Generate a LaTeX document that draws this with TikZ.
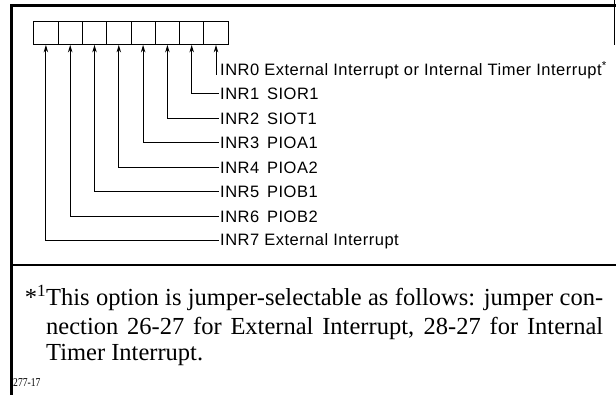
\documentclass[tikz,border=0pt]{standalone}
\usepackage{fontspec}
\setmainfont{Liberation Serif}
\newfontfamily\lblfont[LetterSpace=3]{Liberation Sans}
\usetikzlibrary{arrows.meta}
\begin{document}
\begin{tikzpicture}[x=1pt,y=-1pt,
  frame/.style={line width=2.2pt,line cap=rect},
  cell/.style={draw,line width=0.9pt,minimum width=24.3pt,minimum height=23pt,
               inner sep=0pt,anchor=north west},
  lbl/.style={anchor=west,inner sep=1.5pt,font=\lblfont\fontsize{16.5}{18}\selectfont},
  wire/.style={line width=1pt,-{Stealth[length=7.5pt,width=4.5pt]}},
  note/.style={anchor=base west,inner sep=0pt,font=\fontsize{24.5}{29}\selectfont}]
\useasboundingbox (0,0) rectangle (616,395);

% outer frame and the rule above the footnote
\draw[frame] (616,5.5) -- (11.5,5.5) -- (11.5,395);
\draw[frame] (11.5,265) -- (616,265);
\draw[line width=0.6pt] (614.5,0) -- (614.5,45);

% the eight register cells, bit 7 on the left
\foreach \k in {0,...,7}
  \node[cell] (b\k) at ({33.3+(7-\k)*24.3},21) {};

% interrupt source labels
\node[lbl] (l0) at (218.5,70.0) {INR0 External Interrupt or Internal Timer Interrupt\textsuperscript{*}};
\node[lbl] (l1) at (218.5,94.0) {INR1\, SIOR1};
\node[lbl] (l2) at (218.5,118.5) {INR2\, SIOT1};
\node[lbl] (l3) at (218.5,143.0) {INR3\, PIOA1};
\node[lbl] (l4) at (218.5,167.5) {INR4\, PIOA2};
\node[lbl] (l5) at (218.5,192.0) {INR5\, PIOB1};
\node[lbl] (l6) at (218.5,216.5) {INR6\, PIOB2};
\node[lbl] (l7) at (218.5,241.0) {INR7 External Interrupt};

% wires from each source up into its bit
\coordinate (t0) at (b0.south |- 0,75);
\draw[wire] (t0) -- (b0.south);
\foreach \k in {1,...,7}
  \draw[wire] (l\k.west) -| (b\k.south);

% footnote
\node[note] (f1) at (46,306) {\llap{*\textsuperscript{1}}\makebox[557pt][s]{This option is jumper-selectable as follows: jumper con-}};
\node[note] (f2) at (46,334.5) {\makebox[557pt][s]{nection 26-27 for External Interrupt, 28-27 for Internal}};
\node[note] (f3) at (46,361) {Timer Interrupt.};
\node[anchor=base west,inner sep=0pt,font=\fontsize{12}{14}\selectfont] (fig) at (13,386) {\scalebox{0.8}[1]{277-17}};
\end{tikzpicture}
\end{document}
